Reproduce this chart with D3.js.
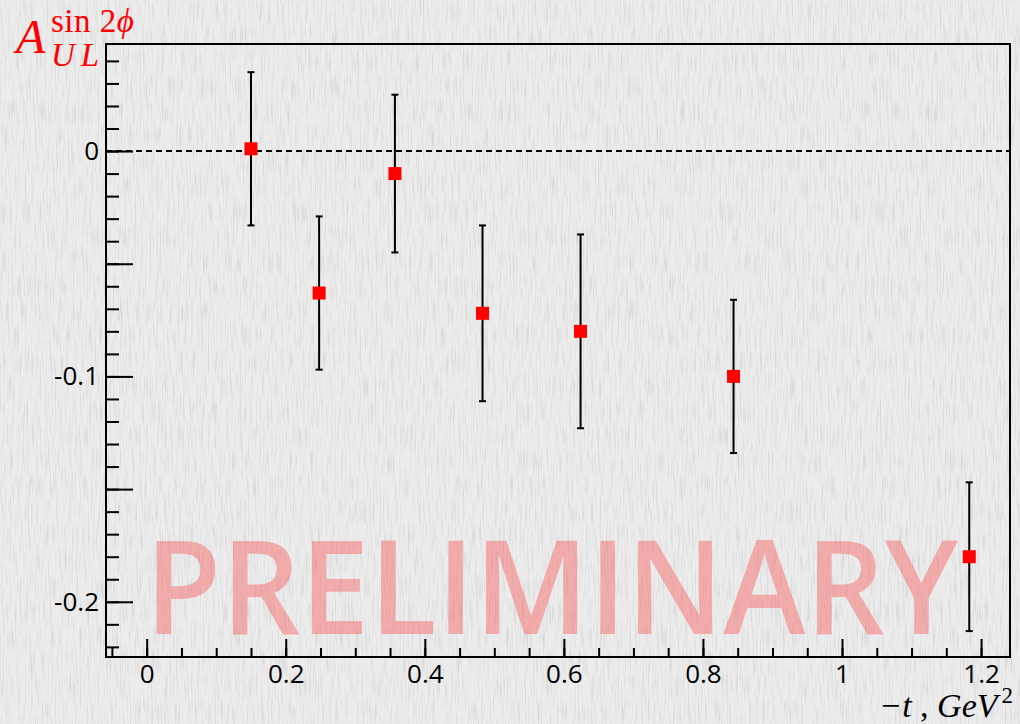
<!DOCTYPE html>
<html>
<head>
<meta charset="utf-8">
<script src="https://cdn.jsdelivr.net/npm/d3@7"></script>
<style>
  html, body { margin: 0; padding: 0; background: #ebebeb; }
  svg { display: block; }
</style>
</head>
<body>
<svg id="chart" width="1020" height="724"></svg>
<script>
// ---- data ----
const tValues   = [0.150, 0.248, 0.357, 0.483, 0.624, 0.844, 1.183];
const asymmetry = [0.001, -0.063, -0.010, -0.072, -0.080, -0.100, -0.180];
const errors    = [0.034, 0.034, 0.035, 0.039, 0.043, 0.034, 0.033];
const xTickLabels = [0, 0.2, 0.4, 0.6, 0.8, 1, 1.2];
const yTickLabels = [0, -0.1, -0.2];

const W = 1020, H = 724;
const m = { left: 106, top: 44, right: 1010, bottom: 657 };

const svg = d3.select("#chart");

// background texture
const defs = svg.append("defs");
const f = defs.append("filter").attr("id", "grain").attr("x", 0).attr("y", 0).attr("width", "100%").attr("height", "100%");
f.append("feTurbulence").attr("type", "fractalNoise").attr("baseFrequency", "0.6 0.04").attr("numOctaves", 2).attr("seed", 3);
f.append("feColorMatrix").attr("type", "matrix")
  .attr("values", "0 0 0 0 0.5  0 0 0 0 0.5  0 0 0 0 0.5  -1.6 0 0 0 0.85");
svg.append("rect").attr("width", W).attr("height", H).attr("fill", "#ececec");
svg.append("rect").attr("width", W).attr("height", H).attr("filter", "url(#grain)").attr("opacity", 0.7);

const x = d3.scaleLinear().domain([-0.0585, 1.2416]).range([m.left, m.right]);
const y = d3.scaleLinear().domain([-0.2245, 0.0475]).range([m.bottom, m.top]);

const sans = "'Open Sans', 'Noto Sans', sans-serif";

// watermark
svg.append("text")
  .attr("x", 145).attr("y", 634)
  .attr("textLength", 813).attr("lengthAdjust", "spacingAndGlyphs")
  .attr("font-family", sans).attr("font-weight", 600)
  .attr("font-size", 130)
  .attr("fill", "#ff2a2a").attr("fill-opacity", 0.33)
  .text("PRELIMINARY");

// frame
svg.append("rect")
  .attr("x", m.left).attr("y", m.top)
  .attr("width", m.right - m.left).attr("height", m.bottom - m.top)
  .attr("fill", "none").attr("stroke", "#000").attr("stroke-width", 2);

// zero dashed line
svg.append("line")
  .attr("x1", m.left).attr("x2", m.right)
  .attr("y1", y(0)).attr("y2", y(0))
  .attr("stroke", "#000").attr("stroke-width", 2).attr("stroke-dasharray", "6,4");

// y axis ticks (inward)
const yMinor = d3.range(-22, 5).map(d => d / 100);
const yAxisMinor = d3.axisRight(y).tickValues(yMinor).tickSize(13).tickFormat("");
const yAxisMajor = d3.axisRight(y).tickValues([0.0, -0.05, -0.1, -0.15, -0.2]).tickSize(27).tickFormat("");
[yAxisMinor, yAxisMajor].forEach(ax => {
  const g = svg.append("g").attr("transform", `translate(${m.left},0)`).call(ax);
  g.select(".domain").remove();
  g.selectAll("text").remove();
  g.selectAll("line").attr("stroke", "#000").attr("stroke-width", 2);
});
const yLab = d3.axisLeft(y).tickValues(yTickLabels).tickSize(0).tickPadding(7)
  .tickFormat(d => d === 0 ? "0" : String(d));
const gyl = svg.append("g").attr("transform", `translate(${m.left},0)`).call(yLab);
gyl.select(".domain").remove();
gyl.selectAll("line").remove();
gyl.selectAll("text").attr("font-family", sans).attr("font-size", 26).attr("fill", "#000");

// x axis ticks (inward)
const xMinor = d3.range(-1, 25).map(d => d * 0.05);
const xAxisMinor = d3.axisTop(x).tickValues(xMinor).tickSize(9).tickFormat("");
const xAxisMajor = d3.axisTop(x).tickValues(xTickLabels).tickSize(18).tickFormat("");
[xAxisMinor, xAxisMajor].forEach(ax => {
  const g = svg.append("g").attr("transform", `translate(0,${m.bottom})`).call(ax);
  g.select(".domain").remove();
  g.selectAll("text").remove();
  g.selectAll("line").attr("stroke", "#000").attr("stroke-width", 2);
});
const xLab = d3.axisBottom(x).tickValues(xTickLabels).tickSize(0).tickPadding(8).tickFormat(d => String(d));
const gxl = svg.append("g").attr("transform", `translate(0,${m.bottom})`).call(xLab);
gxl.select(".domain").remove();
gxl.selectAll("line").remove();
gxl.selectAll("text").attr("font-family", sans).attr("font-size", 26).attr("fill", "#000");

// error bars
const pts = tValues.map((t, i) => ({ t, a: asymmetry[i], e: errors[i] }));
const eb = svg.append("g").attr("stroke", "#000").attr("stroke-width", 2);
pts.forEach(p => {
  eb.append("line").attr("x1", x(p.t)).attr("x2", x(p.t)).attr("y1", y(p.a + p.e)).attr("y2", y(p.a - p.e));
  [p.a + p.e, p.a - p.e].forEach(v => {
    eb.append("line").attr("x1", x(p.t) - 3.5).attr("x2", x(p.t) + 3.5).attr("y1", y(v)).attr("y2", y(v));
  });
});
// markers
svg.append("g").selectAll("rect").data(pts).join("rect")
  .attr("x", d => x(d.t) - 6.5).attr("y", d => y(d.a) - 6.5)
  .attr("width", 13).attr("height", 13).attr("fill", "#ff0000");

// y title  A_{UL}^{sin 2φ}
const serif = "'Liberation Serif', 'DejaVu Serif', serif";
const title = svg.append("g").attr("fill", "#ff0000").attr("font-family", serif);
title.append("text").attr("x", 16).attr("y", 53).attr("font-size", 48).attr("font-style", "italic").text("A");
title.append("text").attr("x", 51).attr("y", 32).attr("font-size", 33).attr("letter-spacing", 0.5).text("sin 2")
  .append("tspan").attr("font-style", "italic").text("ϕ");
title.append("text").attr("x", 51).attr("y", 66).attr("font-size", 33).attr("font-style", "italic")
  .attr("letter-spacing", 6).text("UL");

// x title  −t , GeV²
const xt = svg.append("text").attr("x", 1013).attr("y", 717).attr("text-anchor", "end")
  .attr("font-family", serif).attr("font-size", 34).attr("fill", "#000");
xt.append("tspan").text("−");
xt.append("tspan").attr("font-style", "italic").attr("dx", 2).text("t");
xt.append("tspan").text(" , ");
xt.append("tspan").attr("font-style", "italic").text("GeV");
xt.append("tspan").attr("font-size", 23).attr("dx", 4).attr("dy", -14).attr("font-style", "normal").text("2");
</script>
</body>
</html>
